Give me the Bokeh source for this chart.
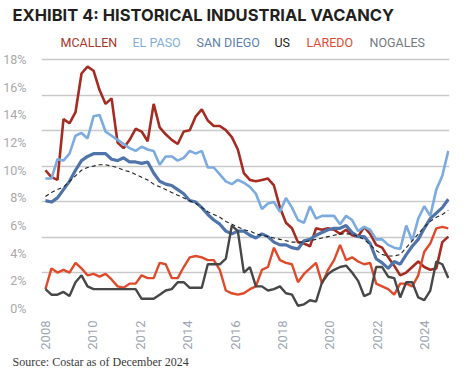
from bokeh.plotting import figure
from bokeh.models import FixedTicker, Label, Title, Range1d
from bokeh.embed import file_html
from bokeh.resources import INLINE
import numpy as np

# ---------------- data (quarterly, 2008 -> Dec 2024), vacancy in % ----------------
series_names = ["MCALLEN", "EL PASO", "SAN DIEGO", "US", "LAREDO", "NOGALES"]

mcallen = [10.0, 9.5, 9.3, 13.7, 13.4, 14.2, 17.0, 17.5, 17.2, 15.8, 14.8, 15.2, 12.0, 11.6, 12.2, 13.0, 12.8, 12.1,
           14.8, 13.1, 12.6, 12.2, 11.9, 12.8, 12.9, 13.9, 14.4, 13.6, 13.2, 13.2, 12.9, 12.4, 11.5, 9.8, 9.3,
           9.2, 9.3, 9.4, 8.9, 7.3, 6.2, 5.8, 4.8, 4.7, 4.5, 5.8, 5.7, 5.8, 5.7, 5.4, 5.7, 5.3,
           5.2, 5.9, 5.4, 4.6, 4.4, 3.7, 3.1, 2.4, 2.6, 3.0, 3.4, 3.0, 2.8, 2.9, 4.8, 5.2]

el_paso = [9.4, 9.4, 10.8, 10.7, 11.2, 12.5, 12.7, 12.3, 13.9, 14.0, 12.8, 12.5, 12.2, 11.9, 11.6, 11.4, 11.7, 11.5,
           11.4, 10.4, 11.0, 11.0, 10.7, 10.9, 11.4, 11.2, 11.4, 10.2, 10.2, 9.7, 9.2, 9.0, 9.3, 9.1, 8.8,
           8.3, 7.2, 7.6, 7.7, 7.0, 8.0, 7.3, 6.4, 6.2, 7.4, 6.5, 6.7, 6.7, 6.7, 6.1, 6.7, 6.4,
           5.6, 5.9, 5.7, 5.0, 5.0, 4.6, 4.4, 4.3, 6.0, 4.9, 6.5, 7.4, 6.7, 8.6, 9.6, 11.4]

san_diego = [7.8, 7.7, 8.0, 8.6, 9.2, 10.0, 10.7, 11.0, 11.2, 11.2, 11.2, 10.8, 10.7, 10.9, 10.6, 10.6, 10.5, 10.6,
             9.8, 9.2, 9.0, 8.9, 8.6, 8.3, 7.8, 7.7, 7.3, 6.8, 6.4, 6.1, 5.6, 5.4, 5.6, 5.6, 5.3,
             5.1, 5.4, 5.2, 4.8, 4.6, 4.6, 4.4, 4.3, 4.9, 5.0, 5.3, 5.5, 5.7, 5.8, 5.8, 6.0, 5.5,
             5.2, 5.2, 4.7, 3.6, 3.3, 2.9, 3.4, 3.2, 3.9, 4.5, 5.0, 5.8, 6.5, 6.9, 7.3, 7.9]

us = [8.1, 8.4, 8.6, 8.8, 9.2, 9.6, 10.0, 10.2, 10.3, 10.4, 10.4, 10.3, 10.2, 10.0, 9.9, 9.7, 9.5, 9.3,
      9.0, 8.8, 8.6, 8.4, 8.2, 8.0, 7.8, 7.6, 7.3, 7.0, 6.8, 6.6, 6.3, 6.1, 5.9, 5.7, 5.6,
      5.4, 5.3, 5.2, 5.1, 5.0, 4.9, 4.8, 4.8, 4.8, 4.9, 5.0, 5.1, 5.2, 5.3, 5.4, 5.4, 5.4,
      5.2, 5.0, 4.6, 4.2, 3.9, 3.8, 3.8, 3.9, 4.4, 4.9, 5.4, 5.9, 6.3, 6.6, 6.8, 7.1]

laredo = [1.4, 2.9, 2.6, 2.8, 2.6, 3.3, 2.9, 2.4, 2.5, 2.3, 2.5, 2.1, 1.6, 1.5, 1.8, 1.8, 2.4, 2.2,
          2.2, 3.3, 3.2, 2.2, 2.2, 3.0, 3.7, 3.8, 3.7, 3.5, 3.5, 2.8, 1.3, 1.1, 1.0, 1.1, 1.4,
          1.6, 2.8, 3.0, 4.4, 3.5, 3.3, 3.2, 1.9, 2.5, 2.9, 3.3, 1.8, 2.8, 3.5, 4.6, 3.5, 3.7,
          3.4, 3.2, 3.3, 1.8, 1.6, 1.4, 1.0, 1.8, 1.8, 1.6, 2.4, 4.1, 4.7, 5.8, 5.9, 5.8]

nogales = [1.4, 1.0, 1.0, 1.2, 0.9, 1.9, 2.4, 1.6, 1.4, 1.4, 1.4, 1.4, 1.4, 1.4, 1.4, 1.4, 0.7, 0.7,
           0.7, 1.0, 1.3, 1.4, 1.9, 1.9, 1.5, 1.5, 1.5, 3.2, 3.2, 3.2, 3.6, 6.0, 5.6, 2.6, 3.0,
           1.6, 1.6, 1.3, 1.4, 1.6, 1.1, 1.0, 0.2, 0.3, 0.6, 0.5, 1.9, 2.5, 2.8, 3.0, 3.1, 2.6,
           2.0, 0.9, 1.1, 3.0, 3.0, 2.3, 2.2, 0.8, 1.9, 1.9, 0.8, 0.6, 1.3, 3.4, 3.2, 2.2]

x_ticks = [2008, 2010, 2012, 2014, 2016, 2018, 2020, 2022, 2024]
x_tick_labels = ["2008", "2010", "2012", "2014", "2016", "2018", "2020", "2022", "2024"]
y_ticks = [0, 2, 4, 6, 8, 10, 12, 14, 16, 18]
y_tick_labels = ["0%", "2%", "4%", "6%", "8%", "10%", "12%", "14%", "16%", "18%"]

# period positions (68 quarters spread from 2008 to the end of 2024)
periods = 2008 + np.arange(len(mcallen)) * 17 / 67

# ---------------- styling ----------------
line_colors = {"MCALLEN": "#A52C22", "EL PASO": "#7BABDF", "SAN DIEGO": "#4F74A9",
               "US": "#222222", "LAREDO": "#E04A2A", "NOGALES": "#474747"}
legend_colors = {"MCALLEN": "#A8352A", "EL PASO": "#7FAEE0", "SAN DIEGO": "#5B7FB0",
                 "US": "#222222", "LAREDO": "#E24B34", "NOGALES": "#737A82"}

y_top = 20.4
p = figure(width=454, height=368, output_backend="svg", toolbar_location=None,
           x_range=Range1d(2007.834, 2025.05), y_range=Range1d(0, y_top),
           min_border_left=34, min_border_right=5, min_border_top=22, min_border_bottom=0)
p.outline_line_color = None
p.background_fill_color = "white"

p.title.text = "EXHIBIT 4: HISTORICAL INDUSTRIAL VACANCY"
p.title.text_font = "Inter"
p.title.text_font_style = "bold"
p.title.text_font_size = "16.5px"
p.title.text_color = "#231F20"
p.title.align = "left"
p.title.offset = -29
p.title.standoff = 4

# grid: 7 evenly spaced lines between 0 and 18 (as in the original)
p.xgrid.visible = False
p.ygrid.ticker = FixedTicker(ticks=[18 * i / 7 for i in range(8)])
p.ygrid.grid_line_color = "#C9C9C9"
p.ygrid.grid_line_width = 1.3

# axes
p.yaxis.ticker = FixedTicker(ticks=y_ticks)
p.yaxis.major_label_overrides = {t: l for t, l in zip(y_ticks, y_tick_labels)}
p.yaxis.axis_line_color = None
p.yaxis.major_tick_line_color = None
p.yaxis.minor_tick_line_color = None
p.yaxis.major_label_text_font = "Roboto"
p.yaxis.major_label_text_font_size = "12.5px"
p.yaxis.major_label_text_color = "#A9A9A9"
p.yaxis.major_label_standoff = 9

p.xaxis.ticker = FixedTicker(ticks=x_ticks)
p.xaxis.major_label_overrides = {t: l for t, l in zip(x_ticks, x_tick_labels)}
p.xaxis.major_label_orientation = np.pi / 2
p.xaxis.axis_line_color = None
p.xaxis.major_tick_line_color = None
p.xaxis.minor_tick_line_color = None
p.xaxis.major_tick_out = 0
p.xaxis.major_tick_in = 0
p.xaxis.major_label_text_font = "Roboto"
p.xaxis.major_label_text_font_size = "13px"
p.xaxis.major_label_text_color = "#9DA6B2"
p.xaxis.major_label_standoff = 12

# lines
p.line(periods, mcallen, line_color=line_colors["MCALLEN"], line_width=2.6)
p.line(periods, el_paso, line_color=line_colors["EL PASO"], line_width=2.6)
p.line(periods, san_diego, line_color=line_colors["SAN DIEGO"], line_width=3.2)
p.line(periods, us, line_color=line_colors["US"], line_width=1.1, line_dash="4 3")
p.line(periods, laredo, line_color=line_colors["LAREDO"], line_width=2.4)
p.line(periods, nogales, line_color=line_colors["NOGALES"], line_width=2.4)

# legend (coloured names across the top)
legend_x = [19, 91, 155, 233, 265, 328]
for name, lx in zip(series_names, legend_x):
    p.add_layout(Label(x=lx, y=19.22, x_units="screen", y_units="data", text=name,
                       text_font="Roboto", text_font_size="12.5px", text_font_style="normal",
                       text_color=legend_colors[name], text_baseline="middle", text_align="left"))

# source note
p.add_layout(Title(text="Source: Costar as of December 2024", align="left", offset=-29,
                   text_font="Liberation Serif", text_font_size="12px", text_font_style="normal",
                   text_color="#3A3A3A", standoff=0), "below")

open("out.html", "w").write(file_html(p, INLINE))
